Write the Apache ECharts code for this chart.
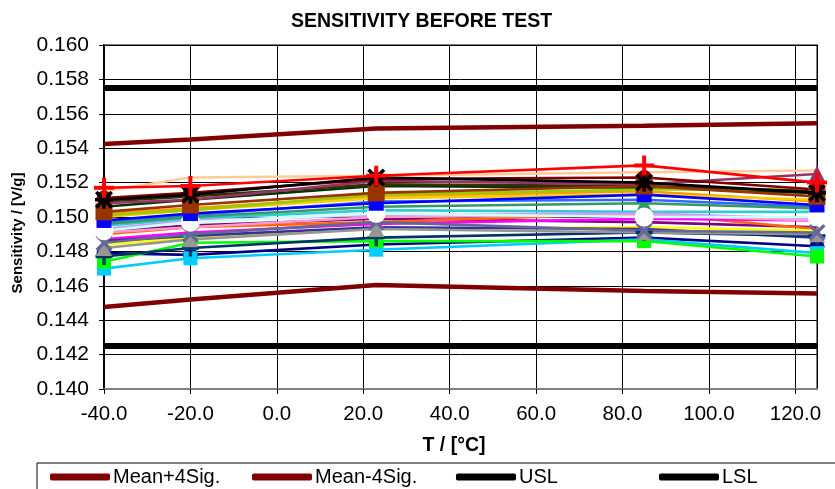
<!DOCTYPE html>
<html>
<head>
<meta charset="utf-8">
<script src="https://cdn.jsdelivr.net/npm/echarts@6/dist/echarts.min.js"></script>
<style>html,body{margin:0;padding:0;background:#fff;}#c{width:835px;height:489px;}</style>
</head>
<body>
<div id="c"></div>
<script>
// Temperatures (x) in °C
const temps = [-40, -20, 23, 85, 125];

// Limit / statistics lines
const usl = [0.1575, 0.1575, 0.1575, 0.1575, 0.1575];
const lsl = [0.1425, 0.1425, 0.1425, 0.1425, 0.1425];
const meanPlus4 = [0.15424, 0.1545, 0.15515, 0.1553, 0.15545];
const meanMinus4 = [0.14477, 0.1452, 0.14605, 0.1457, 0.14555];

// Device sensitivities (V/g) at each temperature
const sRed = [0.1517, 0.1518, 0.1524, 0.1530, 0.1520];
const sBlackStar = [0.1510, 0.1513, 0.1523, 0.1520, 0.1514];
const sBrownSq = [0.1503, 0.1507, 0.1514, 0.1518, 0.1512];
const sBlueSq = [0.1498, 0.1502, 0.1508, 0.1513, 0.1507];
const sWhiteCircle = [0.1492, 0.1497, 0.1502, 0.1500, 0.1500];
const sSlateX = [0.1485, 0.1490, 0.1497, 0.1492, 0.1491];
const sGrayTri = [0.1482, 0.1487, 0.1493, 0.1491, 0.1490];
const sNavyPlus = [0.1477, 0.1482, 0.1488, 0.1491, 0.1489];
const sGreenSq = [0.1474, 0.1485, 0.1486, 0.1486, 0.1477];
const sCyanSq = [0.1470, 0.1476, 0.1481, 0.1487, 0.1479];
const sNavyCircle = [0.1479, 0.1478, 0.1484, 0.1488, 0.1483];
const sMauveTri = [0.1508, 0.1510, 0.1521, 0.1519, 0.1525];
const sMaroonCircle = [0.1511, 0.1514, 0.1522, 0.1523, 0.1516];
const sSeaTri = [0.1496, 0.1500, 0.1506, 0.1508, 0.1505];
const sPeach = [0.1515, 0.1523, 0.1524, 0.1526, 0.1527];
const sDarkGreen = [0.1506, 0.1510, 0.1518, 0.1517, 0.1514];
const sOrange = [0.1502, 0.1505, 0.1512, 0.1515, 0.1509];
const sGold = [0.1500, 0.1504, 0.1511, 0.1513, 0.1510];
const sLime = [0.1501, 0.1504, 0.1513, 0.1516, 0.1516];
const sTurq = [0.1495, 0.1499, 0.1504, 0.1503, 0.1503];
const sPurple = [0.1492, 0.1495, 0.1499, 0.1497, 0.1494];
const sOrangeRed = [0.1490, 0.1494, 0.1497, 0.1502, 0.1493];
const sMagenta = [0.1487, 0.1491, 0.1496, 0.1499, 0.1498];
const sYellow = [0.1484, 0.1488, 0.1493, 0.1494, 0.1492];
const sLavender = [0.1493, 0.1498, 0.1501, 0.1502, 0.1499];
const sIndigo = [0.1486, 0.1489, 0.1494, 0.1493, 0.1488];
const sPink = [0.1491, 0.1494, 0.1500, 0.1501, 0.1498];
const sOlive = [0.1509, 0.1512, 0.1519, 0.1518, 0.1515];
const sSkyBlue = [0.1497, 0.1501, 0.1509, 0.1510, 0.1506];

const legendNames = ['Mean+4Sig.', 'Mean-4Sig.', 'USL', 'LSL'];

const PLUS = 'path://M4,0H6V4H10V6H6V10H4V6H0V4H4Z';
const XMARK = 'path://M1.4,0L5,3.6L8.6,0L10,1.4L6.4,5L10,8.6L8.6,10L5,6.4L1.4,10L0,8.6L3.6,5L0,1.4Z';
const STAR = 'path://M4,0H6V4H10V6H6V10H4V6H0V4H4Z M1.4,0L5,3.6L8.6,0L10,1.4L6.4,5L10,8.6L8.6,10L5,6.4L1.4,10L0,8.6L3.6,5L0,1.4Z';

function pts(vals) { return temps.map((t, i) => [t, vals[i]]); }

const plain = [
  ['p1', sPeach, '#FFCC99'], ['p2', sDarkGreen, '#003300'], ['p3', sOrange, '#FF9900'],
  ['p4', sGold, '#FFCC00'], ['p5', sLime, '#99CC00'], ['p6', sTurq, '#33CCCC'],
  ['p7', sPurple, '#800080'], ['p8', sOrangeRed, '#FF6600'], ['p9', sMagenta, '#FF00FF'],
  ['p10', sYellow, '#FFFF00'], ['p11', sLavender, '#CC99FF'], ['p12', sIndigo, '#333399'],
  ['p13', sPink, '#FF99CC'], ['p14', sOlive, '#333300'], ['p15', sSkyBlue, '#3366FF']
];
const marked = [
  ['m1', sSeaTri, '#339966', 'triangle', 15, '#339966'],
  ['m2', sMauveTri, '#993366', 'triangle', 17, '#993366'],
  ['m3', sMaroonCircle, '#800000', 'circle', 15, '#800000'],
  ['m4', sNavyCircle, '#000080', 'circle', 15, '#000080'],
  ['m5', sCyanSq, '#00CCFF', 'rect', 14, '#00CCFF'],
  ['m6', sGreenSq, '#00FF00', 'rect', 14, '#00FF00'],
  ['m7', sNavyPlus, '#003366', PLUS, 17, '#003366'],
  ['m8', sGrayTri, '#969696', 'triangle', 16, '#969696'],
  ['m9', sSlateX, '#666699', XMARK, 17, '#666699'],
  ['m10', sWhiteCircle, '#CCFFFF', 'circle', 19, '#FFFFFF'],
  ['m11', sBlueSq, '#0000FF', 'rect', 15, '#0000FF'],
  ['m12', sBrownSq, '#993300', 'rect', 17, '#993300'],
  ['m13', sBlackStar, '#000000', STAR, 18, '#000000'],
  ['m14', sRed, '#FF0000', PLUS, 20, '#FF0000']
];

const series = [];
plain.forEach(([n, d, c]) => series.push({
  name: n, type: 'line', data: pts(d), showSymbol: false, symbol: 'none',
  lineStyle: { color: c, width: 2.6 }, itemStyle: { color: c }, z: 2, clip: false
}));
marked.forEach(([n, d, c, sym, size, fill]) => series.push({
  name: n, type: 'line', data: pts(d), symbol: sym, symbolSize: size, showSymbol: true,
  lineStyle: { color: c, width: 2.6 }, itemStyle: { color: fill, borderWidth: 0 }, z: 3, clip: false
}));
series.push(
  { name: 'Mean+4Sig.', type: 'line', data: pts(meanPlus4), symbol: 'none', lineStyle: { color: '#800000', width: 4.5 }, itemStyle: { color: '#800000' }, z: 4, clip: false },
  { name: 'Mean-4Sig.', type: 'line', data: pts(meanMinus4), symbol: 'none', lineStyle: { color: '#800000', width: 4.5 }, itemStyle: { color: '#800000' }, z: 4, clip: false },
  { name: 'USL', type: 'line', data: pts(usl), symbol: 'none', lineStyle: { color: '#000000', width: 6 }, itemStyle: { color: '#000000' }, z: 4, clip: false },
  { name: 'LSL', type: 'line', data: pts(lsl), symbol: 'none', lineStyle: { color: '#000000', width: 6 }, itemStyle: { color: '#000000' }, z: 4, clip: false }
);

const legendLefts = [50, 252, 456, 659];
const legends = legendNames.map((n, i) => ({
  data: [n], left: legendLefts[i], top: 467, padding: 0, itemWidth: 60, itemHeight: 7,
  icon: 'roundRect', itemGap: 3, selectedMode: false,
  textStyle: { fontFamily: 'Liberation Sans, Arial, sans-serif', fontSize: 20, color: '#000', padding: [0, 0, 0, -2] }
}));

const chart = echarts.init(document.getElementById('c'), null, { renderer: 'canvas' });
chart.setOption({
  animation: false,
  backgroundColor: '#ffffff',
  title: {
    text: 'SENSITIVITY BEFORE TEST', left: 286, top: 7,
    textStyle: { fontFamily: 'Liberation Sans, Arial, sans-serif', fontSize: 19.5, fontWeight: 'bold', color: '#000' }
  },
  legend: legends,
  grid: { left: 104, right: 18, top: 45, bottom: 100, show: true, borderColor: '#808080', borderWidth: 2, backgroundColor: 'transparent' },
  xAxis: {
    type: 'value', min: -40, max: 125, interval: 20,
    axisLine: { show: true, onZero: false, lineStyle: { color: '#808080', width: 2 } },
    axisTick: { show: true, inside: false, length: 5, lineStyle: { color: '#000' } },
    splitLine: { show: true, lineStyle: { color: '#000', width: 1 } },
    axisLabel: { showMaxLabel: false, margin: 15, formatter: v => v.toFixed(1), fontFamily: 'Liberation Sans, Arial, sans-serif', fontSize: 20.5, color: '#000' }
  },
  yAxis: {
    type: 'value', min: 0.140, max: 0.160, interval: 0.002,
    axisLine: { show: true, onZero: false, lineStyle: { color: '#000', width: 2 } },
    axisTick: { show: true, inside: false, length: 5, lineStyle: { color: '#000' } },
    splitLine: { show: true, lineStyle: { color: '#000', width: 1 } },
    axisLabel: { margin: 15, formatter: v => v.toFixed(3), fontFamily: 'Liberation Sans, Arial, sans-serif', fontSize: 21, color: '#000' }
  },
  graphic: [
    { type: 'text', x: 454, y: 446, style: { text: 'T / [°C]', fontFamily: 'Liberation Sans, Arial, sans-serif', fontSize: 19.5, fontWeight: 'bold', fill: '#000', textAlign: 'center', textVerticalAlign: 'middle' } },
    { type: 'text', x: 18, y: 233, rotation: Math.PI / 2, style: { text: 'Sensitivity / [V/g]', fontFamily: 'Liberation Sans, Arial, sans-serif', fontSize: 15, fontWeight: 'bold', fill: '#000', textAlign: 'center', textVerticalAlign: 'middle' } },
    { type: 'rect', shape: { x: 37, y: 463, width: 820, height: 60 }, style: { fill: 'none', stroke: '#000', lineWidth: 1 } }
  ],
  series: series
});
</script>
</body>
</html>
